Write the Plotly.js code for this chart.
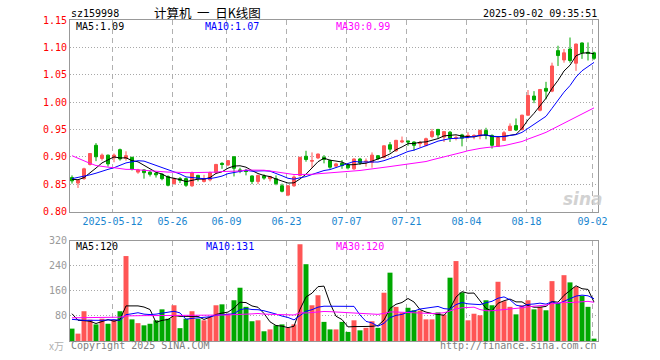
<!DOCTYPE html>
<html>
<head>
<meta charset="utf-8">
<script src="https://cdn.plot.ly/plotly-3.0.1.min.js"></script>
<style>
html,body{margin:0;padding:0;background:#fff;}
#chart{width:660px;height:360px;}
</style>
</head>
<body>
<div id="chart"></div>
<script>
// ---- data (159998, daily, 2025-04-28 .. 2025-09-02) ----
const tickIdx = [7, 17, 26, 36, 46, 56, 66, 76, 87];
const tickText = ["2025-05-12", "05-26", "06-09", "06-23", "07-07", "07-21", "08-04", "08-18", "09-02"];
const volTicks = [80, 160, 240, 320];

const openP = [.862,.852,.860,.886,.921,.897,.903,.898,.913,.897,
 .899,.872,.876,.872,.870,.868,.864,.851,.860,.860,
 .847,.866,.855,.858,.871,.888,.885,.900,.876,.875,
 .865,.855,.865,.860,.860,.847,.830,.847,.866,.901,
 .892,.898,.899,.893,.883,.888,.885,.878,.896,.891,
 .890,.902,.899,.922,.911,.927,.929,.927,.924,.921,
 .937,.950,.936,.945,.934,.940,.938,.938,.938,.948,
 .939,.919,.930,.948,.957,.950,.976,1.011,.985,1.025,
 1.020,1.094,1.077,1.097,1.071,1.108,1.091,1.090];
const highP = [.866,.858,.880,.906,.925,.906,.904,.906,.915,.910,
 .900,.878,.877,.875,.872,.870,.866,.862,.863,.862,
 .873,.867,.867,.873,.887,.890,.894,.901,.880,.878,
 .866,.867,.868,.865,.866,.851,.848,.866,.900,.911,
 .908,.906,.903,.895,.889,.894,.887,.897,.898,.897,
 .908,.903,.921,.927,.931,.937,.929,.928,.929,.935,
 .951,.951,.947,.947,.939,.942,.945,.941,.950,.953,
 .941,.936,.947,.961,.970,.977,1.022,1.020,1.024,1.037,
 1.072,1.103,1.097,1.118,1.107,1.109,1.109,1.092];
const lowP = [.851,.843,.858,.884,.892,.893,.882,.890,.893,.893,
 .875,.869,.860,.864,.862,.857,.846,.849,.852,.845,
 .845,.855,.853,.855,.869,.878,.883,.864,.870,.866,
 .850,.850,.858,.855,.848,.835,.828,.845,.864,.891,
 .880,.896,.888,.878,.880,.878,.877,.876,.885,.882,
 .880,.894,.897,.908,.909,.925,.920,.911,.917,.919,
 .934,.934,.927,.927,.930,.919,.933,.932,.932,.932,
 .915,.918,.929,.947,.947,.948,.975,.998,.983,1.005,
 1.018,1.066,1.072,1.072,1.057,1.079,1.076,1.077];
const closeP = [.856,.857,.878,.906,.900,.903,.887,.903,.896,.902,
 .877,.876,.871,.868,.867,.860,.848,.860,.857,.848,
 .871,.860,.860,.871,.886,.886,.893,.879,.874,.873,
 .855,.866,.861,.864,.851,.837,.847,.863,.899,.895,
 .893,.905,.895,.881,.887,.884,.880,.896,.889,.892,
 .903,.897,.920,.914,.930,.929,.927,.921,.926,.933,
 .946,.940,.946,.934,.935,.934,.939,.939,.948,.939,
 .921,.935,.944,.956,.949,.976,1.012,1.004,1.023,1.020,
 1.066,1.085,1.090,1.076,1.106,1.090,1.089,1.080];
// volume, 万
const volume = [39.5,23.5,95,68,53,71,55,68,95,271,
 69,57,50,55,66,101,71,114,41,71,
 95,71,66,77,114,117,87,130,170,109,
 63,66,31,37,50,53,42,53,309,245,
 114,146,61,37,37,61,29,66,34,42,
 63,42,154,218,109,91,106,98,97,69,
 69,91,84,202,255,155,66,87,82,130,
 114,189,127,109,85,114,130,101,109,98,
 191,120,210,187,173,144,109,7.5];

// moving-average values at the left edge (window reaches before the visible range)
const ma5Lead  = [0.859, 0.858, 0.862, 0.870];
const ma10Lead = [0.860, 0.862, 0.864, 0.867, 0.870, 0.874, 0.877, 0.880, 0.884];
const ma30Lead = [0.902,0.897,0.892,0.888,0.884,0.882,0.881,0.880,0.878,0.877,
 0.877,0.876,0.876,0.875,0.874,0.873,0.872,0.872,0.871,0.871,
 0.871,0.871,0.871,0.872,0.872,0.873,0.873,0.874,0.874];
const vma5Lead  = [87, 66, 65, 63];
const vma10Lead = [69, 67, 66, 66, 65, 66, 67, 68, 66];
const vma30Lead = [74,74,74,74,74,74,74,74,76,80,
 81,81,81,81,81,81,81,81,81,81,
 81,82,82,82,83,83,83,84,84];

const maLabels  = ["MA5:1.09", "MA10:1.07", "MA30:0.99"];
const vmaLabels = ["MA5:120", "MA10:131", "MA30:120"];

// ---- drawing ----
const RED = "#ff5555", GREEN = "#00a800";
const MONO = "DejaVu Sans Mono, Liberation Mono, monospace";
const xs = openP.map((_, i) => i);

function movingAvg(arr, n, lead) {
  return arr.map((v, i) => {
    if (i < n - 1) return lead[i];
    let s = 0;
    for (let k = i - n + 1; k <= i; k++) s += arr[k];
    return s / n;
  });
}

const volColors = closeP.map((c, i) => (c >= openP[i] ? RED : GREEN));

const traces = [
  {
    type: "candlestick", x: xs, open: openP, high: highP, low: lowP, close: closeP,
    xaxis: "x", yaxis: "y", hoverinfo: "skip", whiskerwidth: 0,
    increasing: {line: {color: RED, width: 1}, fillcolor: RED},
    decreasing: {line: {color: GREEN, width: 1}, fillcolor: GREEN}
  },
  {type: "scatter", mode: "lines", x: xs, y: movingAvg(closeP, 5, ma5Lead), line: {color: "#000000", width: 1}, xaxis: "x", yaxis: "y", hoverinfo: "skip"},
  {type: "scatter", mode: "lines", x: xs, y: movingAvg(closeP, 10, ma10Lead), line: {color: "#0000ff", width: 1}, xaxis: "x", yaxis: "y", hoverinfo: "skip"},
  {type: "scatter", mode: "lines", x: xs, y: movingAvg(closeP, 30, ma30Lead), line: {color: "#ff00ff", width: 1}, xaxis: "x", yaxis: "y", hoverinfo: "skip"},
  {type: "bar", x: xs, y: volume, marker: {color: volColors, line: {width: 0}}, xaxis: "x2", yaxis: "y2", hoverinfo: "skip"},
  {type: "scatter", mode: "lines", x: xs, y: movingAvg(volume, 5, vma5Lead), line: {color: "#000000", width: 1}, xaxis: "x2", yaxis: "y2", hoverinfo: "skip"},
  {type: "scatter", mode: "lines", x: xs, y: movingAvg(volume, 10, vma10Lead), line: {color: "#0000ff", width: 1}, xaxis: "x2", yaxis: "y2", hoverinfo: "skip"},
  {type: "scatter", mode: "lines", x: xs, y: movingAvg(volume, 30, vma30Lead), line: {color: "#ff00ff", width: 1}, xaxis: "x2", yaxis: "y2", hoverinfo: "skip"}
];

const PT = 20, PB = 341; // plot area top/bottom in px
const py = p => (PB - p) / (PB - PT);
const px = p => (p - 70) / 528;

const gridX = {
  showgrid: true, gridcolor: "#b0b0b0", griddash: "5px,4px", gridwidth: 1,
  showline: true, linecolor: "#999999", linewidth: 1, mirror: true,
  zeroline: false, ticks: "", fixedrange: true
};
const xRange = [-0.333, 87.667];
const gridTicks = tickIdx.map(i => i - 0.25);

function ann(text, x, y, color, xanchor, size, family, extra) {
  return Object.assign({
    text: text, x: x, y: y, xref: "paper", yref: "paper",
    xanchor: xanchor, yanchor: "middle", showarrow: false,
    font: {family: family || MONO, size: size || 10, color: color}, borderpad: 0
  }, extra || {});
}

const layout = {
  width: 660, height: 360,
  margin: {l: 70, r: 62, t: PT, b: 360 - PB},
  paper_bgcolor: "#ffffff", plot_bgcolor: "#ffffff",
  showlegend: false, bargap: 0.17, boxgap: 0.28,
  font: {family: MONO, size: 10, color: "#000"},
  xaxis: Object.assign({}, gridX, {
    anchor: "y", range: xRange, tickmode: "array", tickvals: gridTicks, ticktext: tickText,
    tickfont: {family: MONO, size: 10, color: "#1a86d0"},
    rangeslider: {visible: false}
  }),
  xaxis2: Object.assign({}, gridX, {
    anchor: "y2", range: xRange, tickmode: "array", tickvals: gridTicks, showticklabels: false
  }),
  yaxis: {
    domain: [py(211.5), 1], range: [0.80, 1.15], tick0: 0.80, dtick: 0.05, tickformat: ".2f",
    tickfont: {family: MONO, size: 10, color: "#ff0000"},
    showgrid: true, gridcolor: "#a8a8a8", griddash: "1px,2px",
    showline: true, linecolor: "#999999", linewidth: 1, mirror: true,
    zeroline: false, ticks: "", fixedrange: true
  },
  yaxis2: {
    domain: [0, py(240.7)], range: [0, 320], tickmode: "array", tickvals: volTicks,
    tickfont: {family: MONO, size: 10, color: "#9a9a9a"},
    showgrid: true, gridcolor: "#a8a8a8", griddash: "1px,2px",
    showline: true, linecolor: "#999999", linewidth: 1, mirror: true,
    zeroline: false, ticks: "", fixedrange: true
  },
  annotations: [
    ann("sz159998", px(70), py(13), "#000", "left"),
    ann("计算机  一  日K线图", px(207), py(12), "#000", "center", 12.5, "Noto Sans CJK SC"),
    ann("2025-09-02 09:35:51", px(597.5), py(13), "#000", "right"),
    ann(maLabels[0], px(74.5), py(26.5), "#000000", "left"),
    ann(maLabels[1], px(204), py(26.5), "#0000ff", "left"),
    ann(maLabels[2], px(334.5), py(26.5), "#ff00ff", "left"),
    ann(vmaLabels[0], px(74.5), py(246.7), "#000000", "left"),
    ann(vmaLabels[1], px(204.5), py(246.7), "#0000ff", "left"),
    ann(vmaLabels[2], px(334.5), py(246.7), "#ff00ff", "left"),
    ann("Copyright 2025 SINA.COM", px(69.5), py(345.5), "#808080", "left"),
    ann("http://finance.sina.com.cn", px(597.5), py(345.5), "#808080", "right"),
    ann("x万", px(65), py(345.5), "#b0b0b0", "right", 10, "Noto Sans CJK SC"),
    ann("<b><i>sina</i></b>", px(583), py(199), "#c8c8c8", "center", 17, "DejaVu Sans", {opacity: 0.8})
  ]
};

Plotly.newPlot("chart", traces, layout, {displayModeBar: false, staticPlot: true});
</script>
</body>
</html>
